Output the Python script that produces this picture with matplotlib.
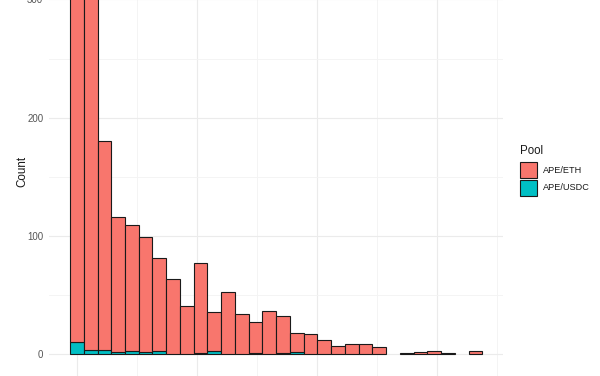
import numpy as np
import matplotlib
matplotlib.use("Agg")
import matplotlib.pyplot as plt
from matplotlib.patches import Rectangle

plt.rcParams['font.family'] = ['Liberation Sans', 'DejaVu Sans']

# ---- data ----
pools = ["APE/ETH", "APE/USDC"]
colors = ["#F8766D", "#00BFC4"]
eth_counts = [400, 336, 176, 114, 106, 97, 78, 64, 41, 76, 33, 53, 34, 26, 37,
              31, 16, 17, 12, 7, 9, 9, 6, 0, 1, 2, 3, 1, 0, 3]
usdc_counts = [10, 4, 4, 2, 3, 2, 3, 0, 0, 1, 3, 0, 0, 1, 0,
               1, 2, 0, 0, 0, 0, 0, 0, 0, 0, 0, 0, 0, 0, 0]
bin_width = 10 / 8.727
y_ticks = [0, 100, 200, 300]
y_tick_labels = ["0", "100", "200", "300"]

eth = np.array(eth_counts)
usdc = np.array(usdc_counts)
n = len(eth)
centers = np.arange(n) * bin_width
total_max = (eth + usdc).max()

fig = plt.figure(figsize=(6, 3.76), dpi=100)
W, H = 600, 376
px_per_unit = 1.183
y0_px = H - 354.3
exp = 0.05 * total_max
ax_bottom = (y0_px - exp * px_per_unit) / H
ax_height = (total_max * 1.1 * px_per_unit) / H
ax = fig.add_axes([49.4 / W, ax_bottom, 453.6 / W, ax_height])

ax.set_xlim(-2 * bin_width, 31 * bin_width)
ax.set_ylim(-exp, total_max * 1.05)

# grid
ax.set_xticks([0, 10, 20, 30])
ax.set_xticks([5, 15, 25, 35], minor=True)
ax.set_yticks(y_ticks)
ax.set_yticklabels(y_tick_labels)
ax.set_yticks([50, 150, 250, 350], minor=True)
ax.grid(True, which='major', color='#EBEBEB', linewidth=0.8)
ax.grid(True, which='minor', color='#F3F3F3', linewidth=0.6)
ax.set_axisbelow(True)
for s in ax.spines.values():
    s.set_visible(False)
ax.tick_params(axis='both', which='both', length=0)
ax.tick_params(axis='x', labelbottom=False)
ax.tick_params(axis='y', labelsize=7, labelcolor='#555555', pad=4.4)

m_u = usdc > 0
ax.bar(centers[m_u], usdc[m_u], width=bin_width, color=colors[1],
       edgecolor='#1a1a1a', linewidth=0.8, label=pools[1])
m_e = eth > 0
ax.bar(centers[m_e], eth[m_e], width=bin_width, bottom=usdc[m_e], color=colors[0],
       edgecolor='#1a1a1a', linewidth=0.8, label=pools[0])

fig.text(22 / W, 1 - 171 / H, "Count", rotation=90, ha='center', va='center',
         fontsize=8.4, color='#1a1a1a')

# legend
fig.text(520 / W, 1 - 151 / H, "Pool", ha='left', va='center', fontsize=8.3,
         color='#1a1a1a')
keys = [(162.3, 178.3), (180.0, 196.0)]
for (top, bot), c, lab in zip(keys, colors, pools):
    fig.patches.append(Rectangle((520 / W, 1 - bot / H), 17.3 / W, (bot - top) / H,
                                 transform=fig.transFigure, facecolor=c,
                                 edgecolor='#1a1a1a', linewidth=0.8))
    fig.text(543 / W, 1 - (top + bot) / 2 / H, lab, ha='left', va='center',
             fontsize=6.6, color='#1a1a1a')

fig.savefig("out.png", dpi=100)
